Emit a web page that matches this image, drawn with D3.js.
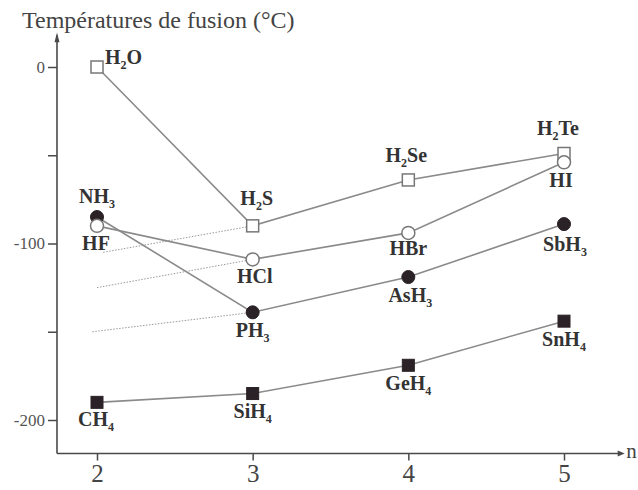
<!DOCTYPE html>
<html>
<head>
<meta charset="utf-8">
<script src="https://cdn.jsdelivr.net/npm/d3@7"></script>
<style>
  html, body { margin: 0; padding: 0; background: #fff; }
  svg { display: block; }
</style>
</head>
<body>
<svg id="chart" width="638" height="490"></svg>
<script>
// ---------- DATA ----------
const periods = [2, 3, 4, 5];
const group14Names = ["CH4", "SiH4", "GeH4", "SnH4"];
const group14Values = [-190, -185, -169, -144];
const group15Names = ["NH3", "PH3", "AsH3", "SbH3"];
const group15Values = [-85, -139, -119, -89];
const group16Names = ["H2O", "H2S", "H2Se", "H2Te"];
const group16Values = [0, -90, -64, -49];
const group17Names = ["HF", "HCl", "HBr", "HI"];
const group17Values = [-90, -109, -94, -54];
// dotted extrapolations (from period 3 back towards period 2)
const extrap16 = [[2.04, -105], [3, -90]];
const extrap17 = [[2.0, -125], [3, -109]];
const extrap15 = [[1.97, -150], [3, -139]];
const yTickValues = [0, -50, -100, -150, -200];
const yTickLabels = [0, -100, -200];
const xTickValues = [2, 3, 4, 5];
const titleText = "Températures de fusion (°C)";
const xAxisLabel = "n";

// ---------- LAYOUT (label offsets in px relative to marker) ----------
const labelOffsets = {
  "H2O": [8, -3, "start"], "H2S": [4, -21], "H2Se": [-2, -18], "H2Te": [-6, -18],
  "HF": [-1, 24], "HCl": [2, 24], "HBr": [0, 22], "HI": [-3, 25],
  "NH3": [0, -14], "PH3": [0, 25], "AsH3": [2, 25], "SbH3": [1, 27],
  "CH4": [-1, 24], "SiH4": [0, 24], "GeH4": [0, 25], "SnH4": [0, 25]
};

const svg = d3.select("#chart");
const x = d3.scaleLinear().domain([2, 5]).range([97, 564]);
const y = d3.scaleLinear().domain([0, -200]).range([67, 420]);

const axisColor = "#4a4a4a";
const lineColor = "#8a8a8a";
const textColor = "#333";
const serif = "'Liberation Serif', 'Times New Roman', serif";

const xAxisY = y(-219);
const yAxisX = x(1.743);

// Title
svg.append("text").attr("x", 22).attr("y", 28)
  .attr("font-family", serif).attr("font-size", 24).attr("fill", "#444")
  .text(titleText);

// Y axis
const yAxis = svg.append("g").attr("transform", `translate(${yAxisX},0)`)
  .call(d3.axisLeft(y).tickValues(yTickValues).tickSize(9).tickPadding(3)
    .tickFormat(d => yTickLabels.includes(d) ? String(d) : ""));
yAxis.select(".domain").remove();
yAxis.selectAll(".tick line").attr("stroke", axisColor).attr("stroke-width", 1.5);
yAxis.selectAll(".tick text").attr("font-family", serif).attr("font-size", 17).attr("fill", "#555");
svg.append("line").attr("x1", yAxisX).attr("x2", yAxisX)
  .attr("y1", xAxisY).attr("y2", y(18))
  .attr("stroke", axisColor).attr("stroke-width", 1.6);
svg.append("path")
  .attr("d", `M${yAxisX - 2.5},${y(14)} L${yAxisX},${y(19.5)} L${yAxisX + 2.5},${y(14)} Z`)
  .attr("fill", axisColor);

// X axis
const xAxis = svg.append("g").attr("transform", `translate(0,${xAxisY})`)
  .call(d3.axisBottom(x).tickValues(xTickValues).tickSize(7).tickPadding(4).tickFormat(d3.format("d")));
xAxis.select(".domain").remove();
xAxis.selectAll(".tick line").attr("stroke", axisColor).attr("stroke-width", 1.5);
xAxis.selectAll(".tick text").attr("font-family", serif).attr("font-size", 25).attr("fill", "#444");
svg.append("line").attr("x1", yAxisX).attr("x2", x(5.36))
  .attr("y1", xAxisY).attr("y2", xAxisY)
  .attr("stroke", axisColor).attr("stroke-width", 1.6);
svg.append("path")
  .attr("d", `M${x(5.345)},${xAxisY - 3} L${x(5.39)},${xAxisY} L${x(5.345)},${xAxisY + 3} Z`)
  .attr("fill", axisColor);
svg.append("text").attr("x", x(5.4)).attr("y", xAxisY + 4)
  .attr("font-family", serif).attr("font-size", 21).attr("fill", "#444")
  .text(xAxisLabel);

// Dotted extrapolations
const line = d3.line().x(d => x(d[0])).y(d => y(d[1]));
[extrap16, extrap17, extrap15].forEach(ex => {
  svg.append("path").attr("d", line(ex)).attr("fill", "none")
    .attr("stroke", "#9a9a9a").attr("stroke-width", 1).attr("stroke-dasharray", "1.5,1.5");
});

// Series
const series = [
  { names: group14Names, values: group14Values, marker: "square", filled: true },
  { names: group16Names, values: group16Values, marker: "square", filled: false },
  { names: group15Names, values: group15Values, marker: "circle", filled: true },
  { names: group17Names, values: group17Values, marker: "circle", filled: false }
];

series.forEach(s => {
  const pts = periods.map((p, i) => [p, s.values[i]]);
  svg.append("path").attr("d", line(pts)).attr("fill", "none")
    .attr("stroke", lineColor).attr("stroke-width", 1.6);
});

series.forEach(s => {
  const pts = periods.map((p, i) => [p, s.values[i]]);
  const g = svg.append("g");
  if (s.marker === "square") {
    const sz = 12;
    g.selectAll("rect").data(pts).join("rect")
      .attr("x", d => x(d[0]) - sz / 2).attr("y", d => y(d[1]) - sz / 2)
      .attr("width", sz).attr("height", sz)
      .attr("fill", s.filled ? "#2a2226" : "#fff")
      .attr("stroke", s.filled ? "#2a2226" : "#777").attr("stroke-width", s.filled ? 1 : 1.5);
  } else {
    g.selectAll("circle").data(pts).join("circle")
      .attr("cx", d => x(d[0])).attr("cy", d => y(d[1])).attr("r", 6.5)
      .attr("fill", s.filled ? "#2a2226" : "#fff")
      .attr("stroke", s.filled ? "#2a2226" : "#777").attr("stroke-width", s.filled ? 1 : 1.5);
  }
});

// Labels with subscripts
function addLabel(name, px, py) {
  const off = labelOffsets[name] || [0, 20];
  const t = svg.append("text")
    .attr("x", px + off[0]).attr("y", py + off[1])
    .attr("text-anchor", off[2] || "middle")
    .attr("font-family", serif).attr("font-size", 20).attr("font-weight", "bold")
    .attr("fill", textColor);
  const parts = name.match(/[A-Za-z]+|\d+/g);
  let sub = false;
  parts.forEach(p => {
    if (/^\d+$/.test(p)) {
      t.append("tspan").attr("font-size", 12).attr("dy", 5).text(p);
      sub = true;
    } else {
      t.append("tspan").attr("dy", sub ? -5 : 0).text(p);
      sub = false;
    }
  });
}
series.forEach(s => {
  periods.forEach((p, i) => addLabel(s.names[i], x(p), y(s.values[i])));
});
</script>
</body>
</html>
